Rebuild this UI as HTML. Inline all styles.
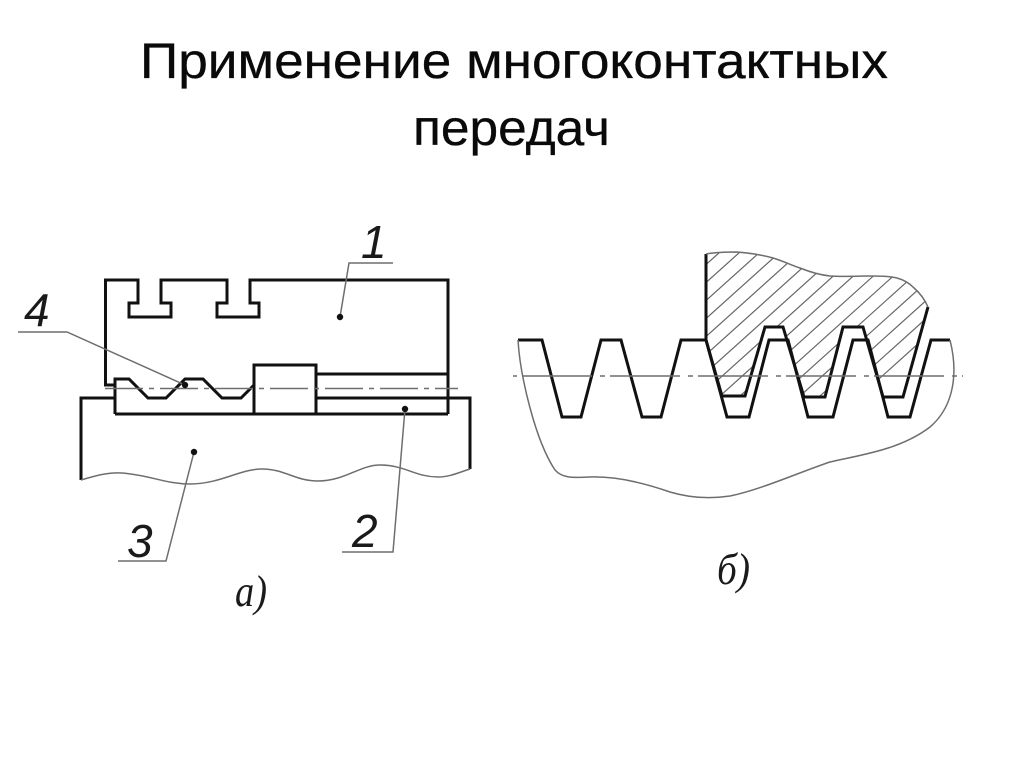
<!DOCTYPE html>
<html lang="ru">
<head>
<meta charset="utf-8">
<title>Применение многоконтактных передач</title>
<style>
html,body{margin:0;padding:0;background:#fff;width:1024px;height:767px;overflow:hidden}
svg{display:block}
.t{font-family:"Liberation Sans","Noto Sans CJK SC",sans-serif;font-size:50px;fill:#0a0a0a;stroke:#0a0a0a;stroke-width:.3}
.n{font-family:"Liberation Sans",sans-serif;font-style:italic;font-size:46px;fill:#1a1a1a}
.s{font-family:"Liberation Serif",serif;font-style:italic;fill:#1a1a1a}
.k{fill:none;stroke:#111;stroke-width:3;stroke-linejoin:miter}
.g{fill:none;stroke:#6e6e6e;stroke-width:1.5}
.h{fill:none;stroke:#666;stroke-width:1.2}
</style>
</head>
<body>
<svg width="1024" height="767" viewBox="0 0 1024 767" xmlns="http://www.w3.org/2000/svg">
<defs>
<clipPath id="c"><path d="M706 254C717 252 727 252 737 252C750 253 762 255 773 258C783 261 791 265 800 268C810 272 820 275 830 276C843 277 856 276 868 276C879 276 889 276 897 278C904 280 909 283 913 287C920 293 925 300 928 307L903 397L883 397L863 327L843 327L825 397L804 397L783 327L765 327L745 396L722 396L706 340Z"/></clipPath>
</defs>
<rect width="1024" height="767" fill="#fff"/>
<text class="t" x="140" y="78" textLength="748" lengthAdjust="spacingAndGlyphs">Применение многоконтактных</text>
<text class="t" x="413" y="145" textLength="197" lengthAdjust="spacingAndGlyphs">передач</text>

<!-- Figure a -->
<path class="k" d="M115 385H105.500V280H138V303H129V317H171V303H161V280H227V303H217V317H259V303H250V280H448V414"/>
<path class="k" d="M115 414V379H129L148 398H166L185 379H203L222 398H241L254 385"/>
<path class="k" d="M115 414H448"/>
<path class="k" d="M254 414V365H316V414"/>
<path class="k" d="M316 374H448M316 398H470V469M115 398H81V480"/>
<path class="g" d="M105 388.500H458" stroke-dasharray="38 6 5 6"/>
<path class="g" d="M81 480C95 476 108 472 122 473C150 475 165 484 190 484C220 484 240 469 262 469C285 469 295 481 318 481C345 481 360 465 380 465C405 465 415 477 438 477C450 477 460 472 470 469"/>
<path class="g" d="M393 263H349L340 317"/>
<path class="g" d="M18 332H67L185 385"/>
<path class="g" d="M194 452L166 561H118"/>
<path class="g" d="M405 409L393 552H342"/>
<g fill="#111">
<circle cx="340" cy="317" r="3.2"/>
<circle cx="185" cy="385" r="3.2"/>
<circle cx="194" cy="452" r="3.2"/>
<circle cx="405" cy="409" r="3.2"/>
</g>
<text class="n" x="361" y="258">1</text>
<text class="n" x="24" y="326">4</text>
<text class="n" x="127" y="557">3</text>
<text class="n" x="352" y="547">2</text>
<text class="s" x="235" y="606" font-size="44" textLength="32" lengthAdjust="spacingAndGlyphs">а)</text>
<text class="s" x="717" y="584" font-size="44" textLength="33" lengthAdjust="spacingAndGlyphs">б)</text>

<!-- Figure b -->
<g clip-path="url(#c)">
<path class="h" d="M700 270L930 63M700 288L930 81M700 306L930 99M700 324L930 117M700 342L930 135M700 360L930 153M700 378L930 171M700 396L930 189M700 414L930 207M700 432L930 225M700 450L930 243M700 468L930 261M700 486L930 279M700 504L930 297M700 522L930 315M700 540L930 333"/>
</g>
<path class="k" d="M518 340H542L562 417H581L601 340H621L642 417H661L681 340H706L727 417H749L769 340H788L808 417H833L853 340H868L888 417H910L931 340H950"/>
<path class="k" d="M706 340V254"/>
<path class="k" d="M706 340L722 396H745L765 327H783L804 397H825L843 327H863L883 397H903L928 307"/>
<path class="g" d="M706 254C717 252 727 252 737 252C750 253 762 255 773 258C783 261 791 265 800 268C810 272 820 275 830 276C843 277 856 276 868 276C879 276 889 276 897 278C904 280 909 283 913 287C920 293 925 300 928 307"/>
<path class="g" d="M518 340C520 375 535 440 555 470C562 478 572 478 590 477C620 476 650 485 670 492C690 498 710 499 730 496C760 490 800 472 830 462C860 455 900 450 930 427C950 410 960 380 950 340"/>
<path class="g" d="M513 376H963" stroke-dasharray="70 8 5 5" stroke-dashoffset="79"/>
</svg>
</body>
</html>
